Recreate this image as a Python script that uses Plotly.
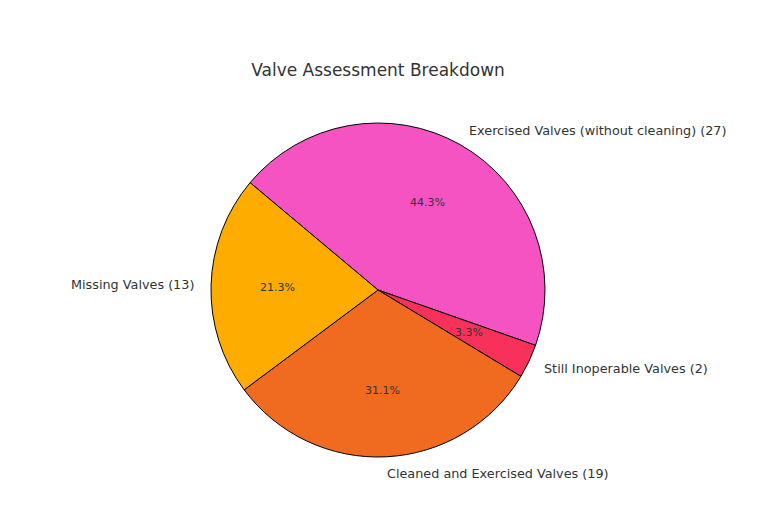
import math
import plotly.graph_objects as go

labels = ["Exercised Valves (without cleaning)", "Still Inoperable Valves",
          "Cleaned and Exercised Valves", "Missing Valves"]
values = [27, 2, 19, 13]
colors = ["#F553C2", "#F7315A", "#F06A20", "#FFAC00"]
start_angle = 140  # degrees, counterclockwise from 3 o'clock; slices go clockwise

W, H = 762, 528
cx, cy, R = 378, 290, 167
mt, mb = cy - R, H - (cy + R)
pw = 556
ml = cx - pw / 2
mr = W - ml - pw

fig = go.Figure(go.Pie(
    labels=labels, values=values, sort=False, direction="clockwise",
    rotation=90 - start_angle,
    marker=dict(colors=colors, line=dict(color="black", width=1)),
    textinfo="none", hoverinfo="label+percent", showlegend=False,
    domain=dict(x=[0, 1], y=[0, 1]),
))

total = sum(values)
ann = []
a0 = start_angle
for lab, v in zip(labels, values):
    span = 360 * v / total
    mid = math.radians(a0 - span / 2)
    a0 -= span
    # outside label at 1.1 R
    lx = 0.5 + 1.1 * R * math.cos(mid) / pw
    ly = 0.5 + 1.1 * R * math.sin(mid) / (2 * R)
    ann.append(dict(x=lx, y=ly, xref="paper", yref="paper", showarrow=False,
                    text=f"{lab} ({v})", borderpad=0, borderwidth=0,
                    xanchor="left" if math.cos(mid) > 0 else "right",
                    yanchor="middle",
                    font=dict(size=12.8, color="#333333")))
    px = 0.5 + 0.6 * R * math.cos(mid) / pw
    py = 0.5 + 0.6 * R * math.sin(mid) / (2 * R)
    ann.append(dict(x=px, y=py, xref="paper", yref="paper", showarrow=False,
                    text=f"{100 * v / total:.1f}%", xanchor="center", yanchor="middle",
                    borderpad=0, borderwidth=0,
                    font=dict(size=11, color="#333333")))

fig.update_layout(
    width=W, height=H,
    margin=dict(l=ml, r=mr, t=mt, b=mb, autoexpand=False),
    paper_bgcolor="white", plot_bgcolor="white",
    font=dict(family="DejaVu Sans", color="#333333"),
    title=dict(text="Valve Assessment Breakdown", x=cx / W, xanchor="center",
               y=1 - 70 / H, yanchor="middle", font=dict(size=17, color="#333333")),
    annotations=ann,
)
fig.write_html("out.html")
